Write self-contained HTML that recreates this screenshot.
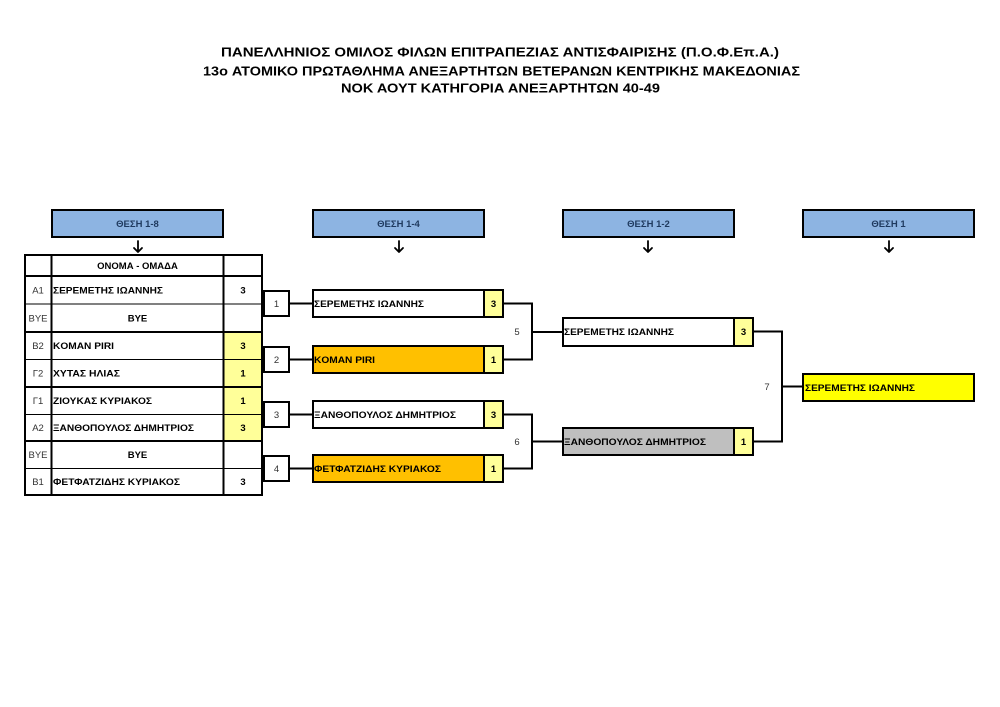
<!DOCTYPE html>
<html>
<head>
<meta charset="utf-8">
<style>
  html, body { margin: 0; padding: 0; background: #ffffff; }
  svg { display: block; }
  text { font-family: "Liberation Sans", "DejaVu Sans", sans-serif; }
  .t { font-weight: bold; font-size: 13px; fill: #000; }
  .n { font-weight: bold; font-size: 9.5px; fill: #000; }
  .l { font-size: 9.5px; fill: #333; }
  .h { font-weight: bold; font-size: 9.5px; fill: #1f3a5f; }
  .s { font-weight: bold; font-size: 9.5px; fill: #000; }
</style>
</head>
<body>
<svg width="1000" height="707" viewBox="0 0 1000 707" xmlns="http://www.w3.org/2000/svg">
  <rect x="0" y="0" width="1000" height="707" fill="#ffffff"/>

  <!-- Title -->
  <text class="t" x="500" y="56.5" text-anchor="middle" textLength="558" lengthAdjust="spacingAndGlyphs">ΠΑΝΕΛΛΗΝΙΟΣ ΟΜΙΛΟΣ ΦΙΛΩΝ ΕΠΙΤΡΑΠΕΖΙΑΣ ΑΝΤΙΣΦΑΙΡΙΣΗΣ (Π.Ο.Φ.Επ.Α.)</text>
  <text class="t" x="501.5" y="75.5" text-anchor="middle" textLength="597" lengthAdjust="spacingAndGlyphs">13o ΑΤΟΜΙΚΟ ΠΡΩΤΑΘΛΗΜΑ ΑΝΕΞΑΡΤΗΤΩΝ ΒΕΤΕΡΑΝΩΝ ΚΕΝΤΡΙΚΗΣ ΜΑΚΕΔΟΝΙΑΣ</text>
  <text class="t" x="500.5" y="92.5" text-anchor="middle" textLength="319" lengthAdjust="spacingAndGlyphs">ΝΟΚ ΑΟΥΤ ΚΑΤΗΓΟΡΙΑ ΑΝΕΞΑΡΤΗΤΩΝ 40-49</text>

  <!-- Headers -->
  <g stroke="#000" stroke-width="2" fill="#8db4e2">
    <rect x="52" y="210" width="171" height="27"/>
    <rect x="313" y="210" width="171" height="27"/>
    <rect x="563" y="210" width="171" height="27"/>
    <rect x="803" y="210" width="171" height="27"/>
  </g>
  <text class="h" x="137.5" y="227" text-anchor="middle">ΘΕΣΗ 1-8</text>
  <text class="h" x="398.5" y="227" text-anchor="middle">ΘΕΣΗ 1-4</text>
  <text class="h" x="648.5" y="227" text-anchor="middle">ΘΕΣΗ 1-2</text>
  <text class="h" x="888.5" y="227" text-anchor="middle">ΘΕΣΗ 1</text>

  <!-- Arrows -->
  <g stroke="#000" stroke-width="1.8" fill="none" stroke-linecap="round" stroke-linejoin="round">
    <path d="M138 241 V252 M134 248 L138 252 L142 248"/>
    <path d="M399 241 V252 M395 248 L399 252 L403 248"/>
    <path d="M648 241 V252 M644 248 L648 252 L652 248"/>
    <path d="M889 241 V252 M885 248 L889 252 L893 248"/>
  </g>

  <!-- Main table -->
  <rect x="224" y="332" width="38" height="109" fill="#ffff99"/>
  <g stroke="#000" fill="none">
    <rect x="25" y="255" width="237" height="240" stroke-width="2"/>
    <line x1="51.5" y1="255" x2="51.5" y2="495" stroke-width="2"/>
    <line x1="223.5" y1="255" x2="223.5" y2="495" stroke-width="2"/>
    <line x1="25" y1="276" x2="262" y2="276" stroke-width="2"/>
    <line x1="25" y1="304" x2="262" y2="304" stroke-width="1"/>
    <line x1="25" y1="332" x2="262" y2="332" stroke-width="2"/>
    <line x1="25" y1="359.5" x2="262" y2="359.5" stroke-width="1"/>
    <line x1="25" y1="387" x2="262" y2="387" stroke-width="2"/>
    <line x1="25" y1="414.5" x2="262" y2="414.5" stroke-width="1"/>
    <line x1="25" y1="441" x2="262" y2="441" stroke-width="2"/>
    <line x1="25" y1="468.5" x2="262" y2="468.5" stroke-width="1"/>
  </g>

  <text class="n" x="137.5" y="269" text-anchor="middle">ΟΝΟΜΑ - ΟΜΑΔΑ</text>

  <!-- row labels -->
  <g text-anchor="middle">
    <text class="l" x="38" y="293.5">A1</text>
    <text class="l" x="38" y="321.5">BYE</text>
    <text class="l" x="38" y="349">B2</text>
    <text class="l" x="38" y="376.5">Γ2</text>
    <text class="l" x="38" y="404">Γ1</text>
    <text class="l" x="38" y="431">A2</text>
    <text class="l" x="38" y="458">BYE</text>
    <text class="l" x="38" y="485">B1</text>
  </g>

  <!-- names -->
  <text class="n" x="53" y="293.5" textLength="110" lengthAdjust="spacingAndGlyphs">ΣΕΡΕΜΕΤΗΣ ΙΩΑΝΝΗΣ</text>
  <text class="n" x="137.5" y="321.5" text-anchor="middle">BYE</text>
  <text class="n" x="53" y="349" textLength="61" lengthAdjust="spacingAndGlyphs">KOMAN PIRI</text>
  <text class="n" x="53" y="376.5" textLength="67" lengthAdjust="spacingAndGlyphs">ΧΥΤΑΣ ΗΛΙΑΣ</text>
  <text class="n" x="53" y="404" textLength="99" lengthAdjust="spacingAndGlyphs">ΖΙΟΥΚΑΣ ΚΥΡΙΑΚΟΣ</text>
  <text class="n" x="53" y="431" textLength="141" lengthAdjust="spacingAndGlyphs">ΞΑΝΘΟΠΟΥΛΟΣ ΔΗΜΗΤΡΙΟΣ</text>
  <text class="n" x="137.5" y="458" text-anchor="middle">BYE</text>
  <text class="n" x="53" y="485" textLength="127" lengthAdjust="spacingAndGlyphs">ΦΕΤΦΑΤΖΙΔΗΣ ΚΥΡΙΑΚΟΣ</text>

  <!-- scores col -->
  <text class="s" x="243" y="293.5" text-anchor="middle">3</text>
  <text class="s" x="243" y="349" text-anchor="middle">3</text>
  <text class="s" x="243" y="376.5" text-anchor="middle">1</text>
  <text class="s" x="243" y="404" text-anchor="middle">1</text>
  <text class="s" x="243" y="431" text-anchor="middle">3</text>
  <text class="s" x="243" y="485" text-anchor="middle">3</text>

  <!-- Round 1 match boxes -->
  <g stroke="#000" stroke-width="2" fill="#ffffff">
    <rect x="264" y="291" width="25" height="25"/>
    <rect x="264" y="347" width="25" height="25"/>
    <rect x="264" y="402" width="25" height="25"/>
    <rect x="264" y="456" width="25" height="25"/>
  </g>
  <text class="l" x="276.5" y="307" text-anchor="middle">1</text>
  <text class="l" x="276.5" y="363" text-anchor="middle">2</text>
  <text class="l" x="276.5" y="418" text-anchor="middle">3</text>
  <text class="l" x="276.5" y="472" text-anchor="middle">4</text>

  <!-- Connectors -->
  <g stroke="#000" stroke-width="2" fill="none">
    <line x1="290" y1="303.5" x2="313" y2="303.5"/>
    <line x1="290" y1="359.5" x2="313" y2="359.5"/>
    <line x1="290" y1="414.5" x2="313" y2="414.5"/>
    <line x1="290" y1="468.5" x2="313" y2="468.5"/>
    <polyline points="503,303.5 532,303.5 532,359.5 503,359.5"/>
    <line x1="532" y1="332" x2="563" y2="332"/>
    <polyline points="503,414.5 532,414.5 532,468.5 503,468.5"/>
    <line x1="532" y1="441.5" x2="563" y2="441.5"/>
    <polyline points="753,331.5 782,331.5 782,441.5 753,441.5"/>
    <line x1="782" y1="386.5" x2="803" y2="386.5"/>
  </g>

  <!-- Round 2 boxes -->
  <g stroke="#000" stroke-width="2">
    <rect x="313" y="290" width="190" height="27" fill="#ffffff"/>
    <rect x="484" y="290" width="19" height="27" fill="#ffff99"/>
    <rect x="313" y="346" width="190" height="27" fill="#ffc000"/>
    <rect x="484" y="346" width="19" height="27" fill="#ffff99"/>
    <rect x="313" y="401" width="190" height="27" fill="#ffffff"/>
    <rect x="484" y="401" width="19" height="27" fill="#ffff99"/>
    <rect x="313" y="455" width="190" height="27" fill="#ffc000"/>
    <rect x="484" y="455" width="19" height="27" fill="#ffff99"/>
  </g>
  <text class="n" x="314" y="307" textLength="110" lengthAdjust="spacingAndGlyphs">ΣΕΡΕΜΕΤΗΣ ΙΩΑΝΝΗΣ</text>
  <text class="s" x="493.5" y="307" text-anchor="middle">3</text>
  <text class="n" x="314" y="363" textLength="61" lengthAdjust="spacingAndGlyphs">KOMAN PIRI</text>
  <text class="s" x="493.5" y="363" text-anchor="middle">1</text>
  <text class="n" x="314" y="418" textLength="142" lengthAdjust="spacingAndGlyphs">ΞΑΝΘΟΠΟΥΛΟΣ ΔΗΜΗΤΡΙΟΣ</text>
  <text class="s" x="493.5" y="418" text-anchor="middle">3</text>
  <text class="n" x="314" y="472" textLength="127" lengthAdjust="spacingAndGlyphs">ΦΕΤΦΑΤΖΙΔΗΣ ΚΥΡΙΑΚΟΣ</text>
  <text class="s" x="493.5" y="472" text-anchor="middle">1</text>

  <text class="l" x="517" y="335" text-anchor="middle">5</text>
  <text class="l" x="517" y="445" text-anchor="middle">6</text>

  <!-- Round 3 boxes -->
  <g stroke="#000" stroke-width="2">
    <rect x="563" y="318" width="190" height="28" fill="#ffffff"/>
    <rect x="734" y="318" width="19" height="28" fill="#ffff99"/>
    <rect x="563" y="428" width="190" height="27" fill="#bfbfbf"/>
    <rect x="734" y="428" width="19" height="27" fill="#ffff99"/>
  </g>
  <text class="n" x="564" y="335" textLength="110" lengthAdjust="spacingAndGlyphs">ΣΕΡΕΜΕΤΗΣ ΙΩΑΝΝΗΣ</text>
  <text class="s" x="743.5" y="335" text-anchor="middle">3</text>
  <text class="n" x="564" y="445" textLength="142" lengthAdjust="spacingAndGlyphs">ΞΑΝΘΟΠΟΥΛΟΣ ΔΗΜΗΤΡΙΟΣ</text>
  <text class="s" x="743.5" y="445" text-anchor="middle">1</text>

  <text class="l" x="767" y="390" text-anchor="middle">7</text>

  <!-- Final -->
  <rect x="803" y="374" width="171" height="27" fill="#ffff00" stroke="#000" stroke-width="2"/>
  <text class="n" x="805" y="391" textLength="110" lengthAdjust="spacingAndGlyphs">ΣΕΡΕΜΕΤΗΣ ΙΩΑΝΝΗΣ</text>
</svg>
</body>
</html>
